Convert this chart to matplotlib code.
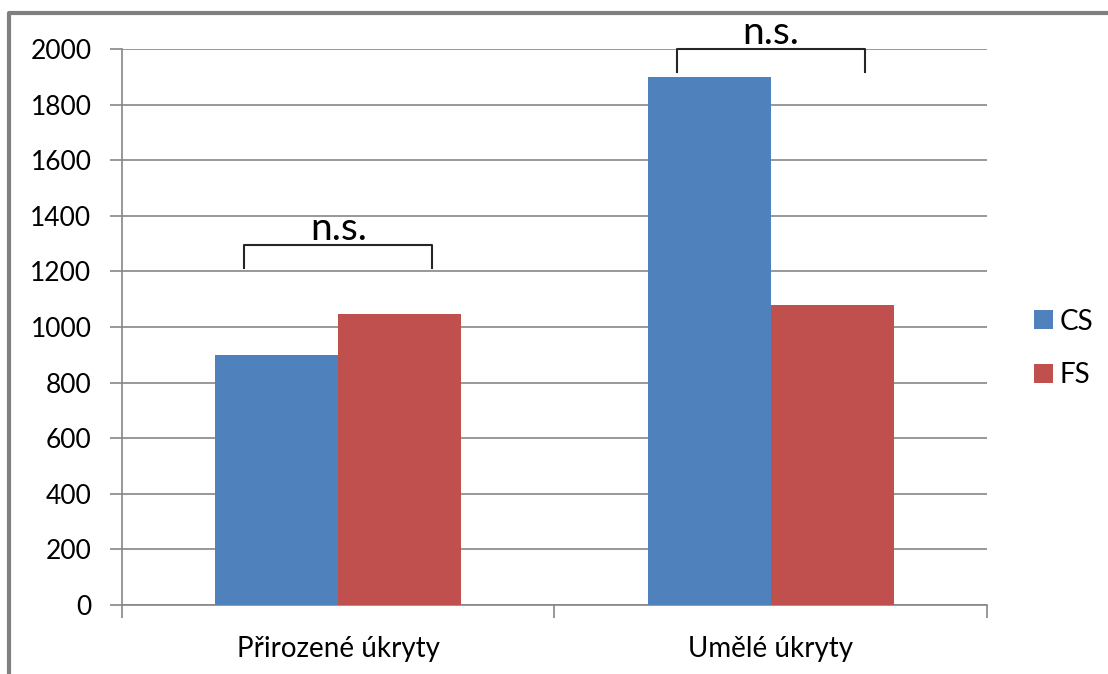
import matplotlib.pyplot as plt
from matplotlib.lines import Line2D
import numpy as np

# data
categories = ['Přirozené úkryty', 'Umělé úkryty']
cs_values = [900, 1900]
fs_values = [1045, 1080]
series_names = ['CS', 'FS']
bracket_top = [1295, 2000]
bracket_leg = [1212, 1917]
bracket_text = ['n.s.', 'n.s.']

plt.rcParams['font.family'] = ['Lato', 'DejaVu Sans']

fig = plt.figure(figsize=(11.08, 6.74), dpi=100)
ax = fig.add_axes([0.1101, 0.1024, 0.7807, 0.8249])

x = np.arange(len(categories))
w = 0.284
ax.bar(x - w / 2, cs_values, w, color='#4F81BD', label=series_names[0], zorder=3)
ax.bar(x + w / 2, fs_values, w, color='#C0504D', label=series_names[1], zorder=3)

ax.set_xlim(-0.5, 1.5)
ax.set_ylim(0, 2000)
ax.set_yticks(range(0, 2001, 200))
ax.grid(axis='y', color='#868686', linewidth=1.2, zorder=0)

# category labels between boundary ticks
ax.set_xticks([-0.5, 0.5, 1.5])
ax.set_xticklabels([])
ax.set_xticks(x, categories, minor=True)
ax.tick_params(axis='x', which='minor', length=0, pad=22, labelsize=20)
ax.tick_params(axis='x', which='major', length=9, width=1.2, color='#868686')
ax.tick_params(axis='y', length=9, width=1.2, color='#868686', pad=13, labelsize=19)

for side in ['top', 'right']:
    ax.spines[side].set_visible(False)
for side in ['left', 'bottom']:
    ax.spines[side].set_color('#868686')
    ax.spines[side].set_linewidth(1.2)

# significance brackets
for i in range(len(categories)):
    xl = x[i] - 0.217
    xr = x[i] + 0.217
    ax.plot([xl, xl, xr, xr], [bracket_leg[i], bracket_top[i], bracket_top[i], bracket_leg[i]],
            color='#262626', linewidth=1.5, clip_on=False, zorder=4)
    ax.text(x[i], bracket_top[i] + 18, bracket_text[i], ha='center', va='baseline',
            fontsize=28, clip_on=False, zorder=5)

ax.legend(loc='center left', bbox_to_anchor=(0.933, 0.483), bbox_transform=fig.transFigure,
          frameon=False, fontsize=20, handlelength=0.68, handleheight=0.68,
          handletextpad=0.25, labelspacing=1.0, borderpad=0, borderaxespad=0)

# outer frame (left and top edges)
fig.add_artist(Line2D([0.0081, 0.0081, 1.0], [0.0, 0.9807, 0.9807], color='#808080',
                      linewidth=3, transform=fig.transFigure))

fig.savefig('out.png', dpi=100)
